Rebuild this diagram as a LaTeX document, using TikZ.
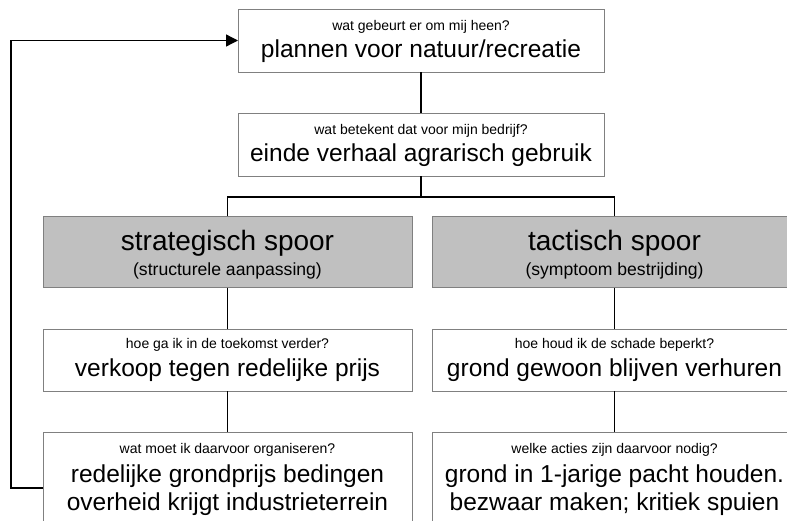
\documentclass[tikz,border=0pt]{standalone}
\usepackage{fontspec}
\setmainfont{Liberation Sans}
\usetikzlibrary{arrows.meta}
\begin{document}
\begin{tikzpicture}[x=1pt,y=-1pt,
  box/.style={draw={rgb,255:red,128;green,128;blue,128},line width=1pt,fill=white,inner sep=0pt,outer sep=0pt},
  graybox/.style={box,fill={rgb,255:red,192;green,192;blue,192}},
  conn/.style={draw=black,line width=1.3pt},
  txt/.style={anchor=base,inner sep=0pt,outer sep=0pt},
  small/.style={txt,font=\fontsize{14}{16}\selectfont},
  big/.style={txt,font=\fontsize{24.5}{28}\selectfont},
  title/.style={txt,font=\fontsize{28}{32}\selectfont},
  sub/.style={txt,font=\fontsize{17.6}{20}\selectfont}]
\useasboundingbox (0,0) rectangle (787,520);
\clip (0,0) rectangle (787,520);
% boxes
\node[box,minimum width=366pt,minimum height=63pt] (top) at (421,40.5) {};
\node[box,minimum width=366pt,minimum height=63pt] (mean) at (421,144.5) {};
\node[graybox,minimum width=369pt,minimum height=71.5pt] (strat) at (227.5,252) {};
\node[graybox,minimum width=365pt,minimum height=71.5pt] (tact) at (614.5,252) {};
\node[box,minimum width=369pt,minimum height=62pt] (verk) at (227.5,360) {};
\node[box,minimum width=365pt,minimum height=62pt] (huur) at (614.5,360) {};
\node[box,minimum width=369pt,minimum height=120pt] (org) at (227.5,492.3) {};
\node[box,minimum width=365pt,minimum height=120pt] (act) at (614.5,492.3) {};
% texts
\node[small] (t1a) at (421,30) {wat gebeurt er om mij heen?};
\node[big] (t1b) at (421,57.3) {plannen voor natuur/recreatie};
\node[small] (t2a) at (421,134) {wat betekent dat voor mijn bedrijf?};
\node[big] (t2b) at (421,161.3) {einde verhaal agrarisch gebruik};
\node[title] (t3a) at (227.5,250.7) {strategisch spoor};
\node[sub] (t3b) at (227.5,275.7) {(structurele aanpassing)};
\node[title] (t4a) at (614.5,250.7) {tactisch spoor};
\node[sub] (t4b) at (614.5,275.7) {(symptoom bestrijding)};
\node[small] (t5a) at (227.5,348.5) {hoe ga ik in de toekomst verder?};
\node[big] (t5b) at (227.5,376.7) {verkoop tegen redelijke prijs};
\node[small] (t6a) at (614.5,348.5) {hoe houd ik de schade beperkt?};
\node[big] (t6b) at (614.5,376.7) {grond gewoon blijven verhuren};
\node[small] (t7a) at (227.5,453.5) {wat moet ik daarvoor organiseren?};
\node[big] (t7b) at (227.5,482.5) {redelijke grondprijs bedingen};
\node[big] (t7c) at (227.5,510) {overheid krijgt industrieterrein};
\node[small] (t8a) at (614.5,453.5) {welke acties zijn daarvoor nodig?};
\node[big] (t8b) at (614.5,482.5) {grond in 1-jarige pacht houden.};
\node[big] (t8c) at (614.5,510) {bezwaar maken; kritiek spuien};
% connectors
\coordinate (split) at (421,197);
\coordinate (fby) at (0,488);
\draw[conn] (top.south) -- (mean.north);
\draw[conn] (mean.south) -- (split);
\draw[conn] (strat.north) |- (split);
\draw[conn] (tact.north) |- (split);
\draw[conn] (strat.south) -- (verk.north);
\draw[conn] (verk.south) -- (org.north);
\draw[conn] (tact.south) -- (huur.north);
\draw[conn] (huur.south) -- (act.north);
\draw[conn,-{Triangle[length=12pt,width=12pt]}] (org.west |- fby) -- ++(-32,0) |- (top.west);
\end{tikzpicture}
\end{document}
